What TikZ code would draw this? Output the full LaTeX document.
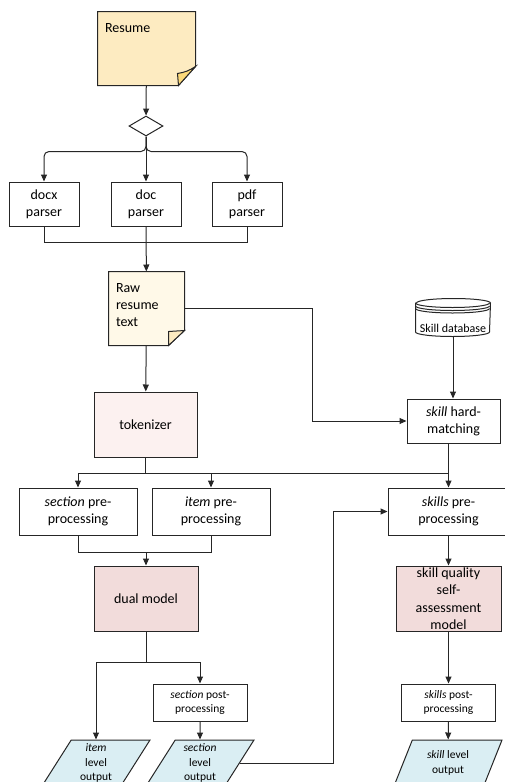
\documentclass[tikz,border=0pt]{standalone}
\usepackage{fontspec}
\setmainfont{Carlito}
\usetikzlibrary{positioning}
\usetikzlibrary{shapes.geometric}
\usetikzlibrary{arrows.meta}

\definecolor{resumefill}{HTML}{FDEBC1}
\definecolor{resumefold}{HTML}{FCD97A}
\definecolor{rawfill}{HTML}{FFF9E8}
\definecolor{rawfold}{HTML}{FDEBC1}
\definecolor{tokfill}{HTML}{FCF1F0}
\definecolor{modelfill}{HTML}{F2DCDB}
\definecolor{outfill}{HTML}{DAEEF3}

\begin{document}
\begin{tikzpicture}[x=1pt,y=-1pt,line width=1pt,draw=black!85,
  arr/.style={-{Triangle[length=7pt,width=6pt]}},
  note/.style={inner sep=0pt},
  proc/.style={draw,fill=white,align=center,inner sep=0pt,font=\fontsize{14}{17}\selectfont},
  smallproc/.style={proc,font=\fontsize{11.5}{14}\selectfont},
  model/.style={proc,fill=modelfill},
  switch/.style={diamond,draw,fill=white,inner sep=0pt,minimum width=34,minimum height=20},
  outbox/.style={trapezium,trapezium left angle=53,trapezium right angle=127,
    trapezium stretches body,draw,fill=outfill,align=center,inner sep=0pt,
    minimum width=108,minimum height=46,font=\fontsize{11.5}{14.5}\selectfont}]
  \useasboundingbox (0,0) rectangle (505,782);
  \clip (0,0) rectangle (505,782);

  % notes
  \node[note,minimum width=97,minimum height=73] (resume) at (146.5,48.5) {};
  \filldraw[fill=resumefill] (resume.north west) -- (resume.north east) -- ([yshift=19pt]resume.south east)
    -- ([xshift=-17pt]resume.south east) -- (resume.south west) -- cycle;
  \filldraw[fill=resumefold] ([yshift=19pt]resume.south east) to[bend left=12] ([xshift=-18pt,yshift=12pt]resume.south east)
    -- ([xshift=-17pt]resume.south east) -- cycle;
  \node[anchor=north west,inner xsep=7pt,inner ysep=11.5pt,font=\fontsize{14}{17}\selectfont] (resumetext) at (resume.north west) {Resume};

  \node[note,minimum width=75,minimum height=73] (raw) at (146.5,308.5) {};
  \filldraw[fill=rawfill] (raw.north west) -- (raw.north east) -- ([yshift=15pt]raw.south east)
    -- ([xshift=-16pt]raw.south east) -- (raw.south west) -- cycle;
  \filldraw[fill=rawfold] ([yshift=15pt]raw.south east) -- ([xshift=-16pt,yshift=14pt]raw.south east)
    -- ([xshift=-16pt]raw.south east) -- cycle;
  \node[anchor=north west,inner xsep=7pt,inner ysep=12pt,align=left,font=\fontsize{14}{17}\selectfont] (rawtext) at (raw.north west) {Raw\\resume\\text};

  % database
  \node[note,minimum width=74,minimum height=37] (skilldb) at (453,317.5) {};
  \filldraw[fill=white] ([yshift=-4.5pt]skilldb.north west) -- ([yshift=4.5pt]skilldb.south west)
    arc[start angle=180,end angle=360,x radius=37pt,y radius=4.5pt]
    -- ([yshift=-4.5pt]skilldb.north east)
    arc[start angle=0,end angle=180,x radius=37pt,y radius=4.5pt] -- cycle;
  \draw ([yshift=-4.5pt]skilldb.north west) arc[start angle=180,end angle=360,x radius=37pt,y radius=4.5pt];
  \draw ([yshift=-7.5pt]skilldb.north west) arc[start angle=180,end angle=360,x radius=37pt,y radius=4.5pt];
  \draw ([yshift=-10pt]skilldb.north west) arc[start angle=180,end angle=360,x radius=37pt,y radius=4.5pt];
  \node[inner sep=0pt,font=\fontsize{12}{14}\selectfont,above=3pt of skilldb.south] (dbtext) {Skill database};

  % process boxes
  \node[switch] (switch) at (146,126) {};
  \node[proc,minimum width=70,minimum height=44] (docx) at (44,204) {docx\\parser};
  \node[proc,minimum width=70,minimum height=44] (doc) at (146,204) {doc\\parser};
  \node[proc,minimum width=70,minimum height=44] (pdf) at (247,204) {pdf\\parser};
  \node[proc,fill=tokfill,minimum width=103,minimum height=65] (tokenizer) at (145.5,424.5) {tokenizer};
  \node[proc,minimum width=93,minimum height=44] (hardmatch) at (453.5,421) {\textit{skill} hard-\\matching};
  \node[proc,minimum width=118,minimum height=47] (secpre) at (78,511.5) {\textit{section} pre-\\processing};
  \node[proc,minimum width=118,minimum height=47] (itempre) at (211,511.5) {\textit{item} pre-\\processing};
  \node[proc,minimum width=121,minimum height=47] (skillpre) at (448.5,511.5) {\textit{skills} pre-\\processing};
  \node[model,minimum width=104,minimum height=65] (dual) at (146,598.5) {dual model};
  \node[model,minimum width=105,minimum height=65,font=\fontsize{14}{17.5}\selectfont] (quality) at (448.5,598.5) {skill quality\\self-\\assessment\\model};
  \node[smallproc,minimum width=94,minimum height=37] (secpost) at (200,702.5) {\textit{section} post-\\processing};
  \node[smallproc,minimum width=94,minimum height=37] (skillpost) at (448.5,702.5) {\textit{skills} post-\\processing};
  \node[outbox] (itemout) at (96,763) {\textit{item}\\level\\output};
  \node[outbox] (secout) at (200,763) {\textit{section}\\level\\output};
  \node[outbox] (skillout) at (448,763) {\textit{skill} level\\output};

  % connectors
  \draw[arr] (resume) -- (switch);
  \draw[arr] (switch) -- (doc);
  \draw[arr,rounded corners=5pt] (switch.south) |- ([yshift=30pt]docx.north) -- (docx.north);
  \draw[arr,rounded corners=5pt] (switch.south) |- ([yshift=30pt]pdf.north) -- (pdf.north);
  \draw (docx.south) -- ++(0,16) -| (pdf.south);
  \draw[arr] (doc) -- (raw);
  \draw[arr] (raw.east) -| ([xshift=-94pt]hardmatch.west) -- (hardmatch.west);
  \draw[arr] (skilldb) -- (skilldb |- hardmatch.north);
  \draw[arr] (raw) -- (tokenizer);
  \draw (tokenizer.south) -- ++(0,16) coordinate (bus);
  \draw (bus -| secpre) -- (bus -| skillpre);
  \draw (hardmatch.south -| skillpre) -- (bus -| skillpre);
  \path[arr]
    (bus -| secpre) edge (secpre)
    (bus -| itempre) edge (itempre)
    (bus -| skillpre) edge (skillpre);
  \draw (secpre.south) -- ++(0,17) coordinate (join) -| (itempre.south);
  \draw[arr] (join -| dual) -- (dual);
  \draw (dual.south) -- ++(0,31) coordinate (fork);
  \draw[arr] (fork) -| (itemout);
  \draw[arr] (fork) -| (secpost);
  \draw[arr] (secpost) -- (secout);
  \draw[arr] (secout.east) -| ([xshift=-54pt]skillpre.west) -- (skillpre.west);
  \draw[arr] (skillpre) -- (quality);
  \draw[arr] (quality) -- (skillpost);
  \draw[arr] (skillpost) -- (skillout);
\end{tikzpicture}
\end{document}
